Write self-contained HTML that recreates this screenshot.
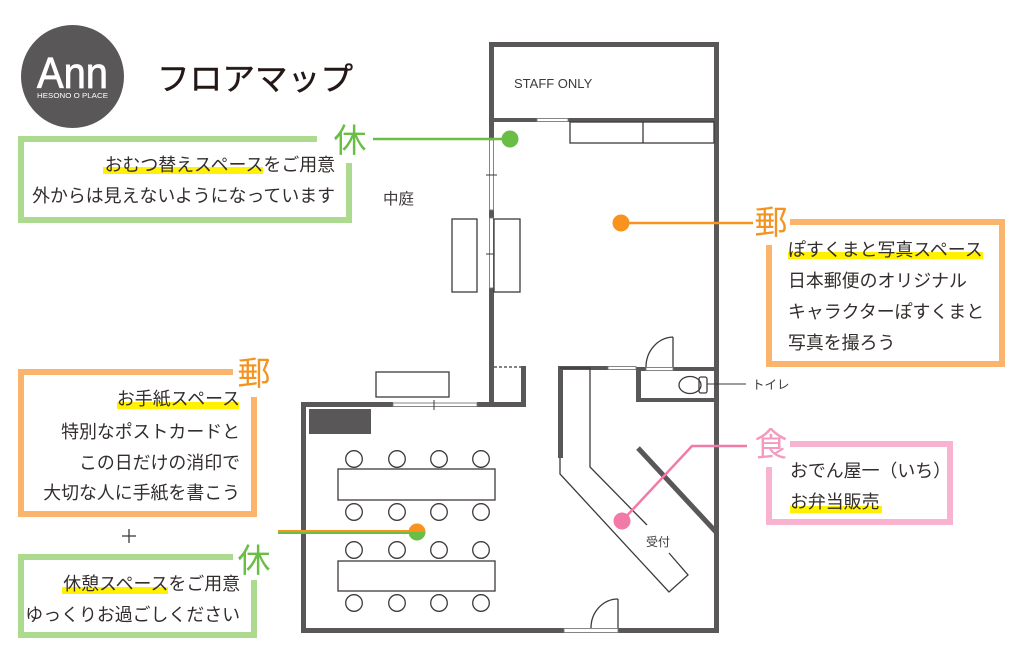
<!DOCTYPE html>
<html><head><meta charset="utf-8"><style>
html,body{margin:0;padding:0;background:#fff;}
svg{display:block;}
text{font-family:"Liberation Sans","Noto Sans CJK JP",sans-serif;}
.jp{font-family:"Liberation Sans","Noto Sans CJK JP",sans-serif;font-size:17.9px;fill:#332e2d;}
</style></head><body>
<svg width="1024" height="671" viewBox="0 0 1024 671" xmlns="http://www.w3.org/2000/svg">
<rect width="1024" height="671" fill="#fff"/>

<!-- Logo -->
<circle cx="72.5" cy="76.5" r="51.5" fill="#595757"/>
<text x="37" y="88" font-size="44" fill="#fff" stroke="#fff" stroke-width="0.8" textLength="71" lengthAdjust="spacingAndGlyphs">Ann</text>
<text x="37" y="98" font-size="7.5" fill="#fff" textLength="71" lengthAdjust="spacingAndGlyphs">HESONO O PLACE</text>
<text x="157" y="90" font-size="32" fill="#231815" stroke="#231815" stroke-width="0.4" textLength="196" lengthAdjust="spacingAndGlyphs" style="font-family:'Noto Sans CJK JP',sans-serif">フロアマップ</text>

<!-- ===== Floor plan ===== -->
<g fill="#595757">
  <rect x="489" y="42" width="230" height="5"/>
  <rect x="714" y="42" width="5" height="591"/>
  <rect x="489" y="42" width="5" height="98"/>
  <rect x="489" y="210" width="5" height="8"/>
  <rect x="489" y="288" width="5" height="119"/>
  <rect x="494" y="118" width="43" height="4"/>
  <rect x="568" y="118" width="146" height="4"/>
  <rect x="301" y="402" width="92" height="5"/>
  <rect x="477" y="402" width="49" height="5"/>
  <rect x="301" y="402" width="5" height="231"/>
  <rect x="301" y="628" width="263" height="5"/>
  <rect x="618" y="628" width="101" height="5"/>
  <rect x="521" y="366" width="5" height="41"/>
  <rect x="558" y="366" width="50" height="4"/>
  <rect x="558" y="366" width="5" height="92"/>
  <rect x="636" y="367" width="10" height="4"/>
  <rect x="673" y="367" width="41" height="4"/>
  <rect x="636" y="367" width="5" height="35"/>
  <rect x="636" y="398" width="78" height="4"/>
  <rect x="309" y="409" width="62" height="25"/>
</g>
<g fill="#fff" stroke="#7a7877" stroke-width="0.9">
  <rect x="489.5" y="140" width="4" height="70"/>
  <rect x="489.5" y="218" width="4" height="70"/>
  <rect x="537" y="118.5" width="31" height="3"/>
  <rect x="393" y="403" width="84" height="3.5"/>
  <rect x="608" y="366.5" width="28" height="3"/>
  <rect x="646" y="367.5" width="27" height="3"/>
  <rect x="564" y="628.5" width="54" height="4"/>
</g>
<g stroke="#3e3a39" stroke-width="1" fill="none">
  <line x1="486" y1="175" x2="497" y2="175"/>
  <line x1="486" y1="254" x2="497" y2="254"/>
  <line x1="434" y1="400" x2="434" y2="410"/>
</g>
<line x1="494" y1="367" x2="521" y2="367" stroke="#3e3a39" stroke-width="1.3" stroke-dasharray="3,2"/>

<g fill="#fff" stroke="#3e3a39" stroke-width="1.3">
  <rect x="570" y="122" width="144" height="21"/>
  <line x1="643" y1="122" x2="643" y2="143"/>
  <rect x="452" y="219" width="25" height="73"/>
  <rect x="494" y="219" width="26" height="73"/>
  <rect x="376" y="372" width="73" height="25"/>
  <rect x="338" y="469" width="157" height="31"/>
  <rect x="338" y="561" width="157" height="30"/>
  <circle cx="354" cy="459" r="8.3"/><circle cx="397" cy="459" r="8.3"/><circle cx="439" cy="459" r="8.3"/><circle cx="481" cy="459" r="8.3"/>
  <circle cx="354" cy="512" r="8.3"/><circle cx="397" cy="512" r="8.3"/><circle cx="439" cy="512" r="8.3"/><circle cx="481" cy="512" r="8.3"/>
  <circle cx="354" cy="550" r="8.3"/><circle cx="397" cy="550" r="8.3"/><circle cx="439" cy="550" r="8.3"/><circle cx="481" cy="550" r="8.3"/>
  <circle cx="354" cy="603" r="8.3"/><circle cx="397" cy="603" r="8.3"/><circle cx="439" cy="603" r="8.3"/><circle cx="481" cy="603" r="8.3"/>
</g>
<g fill="none" stroke="#3e3a39" stroke-width="1.3">
  <polyline points="560,458 560,474 669,592 688,575 669,553"/>
  <polyline points="647,525 590,467 590,368 560,368"/>
  <line x1="673" y1="337" x2="673" y2="367"/>
  <path d="M673,337 A28,30 0 0 0 646,367"/>
  <line x1="618" y1="599" x2="618" y2="628"/>
  <path d="M618,599 A27,29 0 0 0 591,628"/>
  <ellipse cx="690" cy="385" rx="11" ry="8.5"/>
  <rect x="699" y="377" width="8" height="16" rx="2"/>
  <line x1="707" y1="384" x2="746" y2="384" stroke-width="1.1"/>
</g>
<line x1="638" y1="448" x2="716" y2="532" stroke="#595757" stroke-width="5"/>

<text x="514" y="88" font-size="13" fill="#3e3a39">STAFF ONLY</text>
<text x="383" y="204" font-size="15.5" fill="#3e3a39" style="font-family:'Noto Sans CJK JP',sans-serif">中庭</text>
<text x="646" y="546" font-size="12" fill="#3e3a39" style="font-family:'Noto Sans CJK JP',sans-serif">受付</text>
<text x="752" y="389" font-size="12.5" fill="#3e3a39" style="font-family:'Noto Sans CJK JP',sans-serif">トイレ</text>

<line x1="373" y1="139" x2="510" y2="139" stroke="#6abd45" stroke-width="2.5"/>
<circle cx="510" cy="139" r="8.5" fill="#6abd45"/>
<line x1="621" y1="223" x2="753" y2="223" stroke="#f7931e" stroke-width="2.5"/>
<circle cx="621" cy="223" r="8.5" fill="#f7931e"/>
<polyline points="622,521 692,446 747,446" fill="none" stroke="#f27aa8" stroke-width="2.5"/>
<circle cx="622" cy="521" r="8.5" fill="#f27aa8"/>
<rect x="278" y="530" width="139" height="2" fill="#f7931e"/>
<rect x="278" y="532" width="139" height="2" fill="#6abd45"/>
<path d="M408.5,532 A8.5,8.5 0 0 1 425.5,532 Z" fill="#f7931e"/>
<path d="M408.5,532 A8.5,8.5 0 0 0 425.5,532 Z" fill="#6abd45"/>

<g fill="none" stroke-width="6">
  <path d="M317,139 L21,139 L21,220 L349,220 L349,163" stroke="#acdb8f"/>
  <path d="M790,222 L1002,222 L1002,364 L769,364 L769,245" stroke="#fbb46b"/>
  <path d="M790,444 L950,444 L950,522 L769,522 L769,467" stroke="#f7b3cf"/>
  <path d="M233,372 L21,372 L21,514 L254,514 L254,397" stroke="#fbb46b"/>
  <path d="M233,557 L21,557 L21,635 L254,635 L254,580" stroke="#acdb8f"/>
</g>

<g font-size="33" text-anchor="middle" style="font-family:'Noto Sans CJK JP',sans-serif">
  <text x="350" y="152" fill="#6abd45">休</text>
  <text x="771" y="234" fill="#f39422">郵</text>
  <text x="771" y="456" fill="#f49ac1">食</text>
  <text x="254" y="385" fill="#f39422">郵</text>
  <text x="254" y="572" fill="#6abd45">休</text>
</g>

<g fill="#fff100">
  <rect x="103" y="167" width="160" height="7"/>
  <rect x="788" y="252" width="195" height="7"/>
  <rect x="790" y="506" width="92" height="7"/>
  <rect x="117" y="402" width="122" height="7"/>
  <rect x="62" y="587" width="106" height="7"/>
</g>

<g class="jp" text-anchor="end">
  <text class="jp" x="335" y="171">おむつ替えスペースをご用意</text>
  <text class="jp" x="335" y="202">外からは見えないようになっています</text>
  <text class="jp" x="240" y="405">お手紙スペース</text>
  <text class="jp" x="240" y="438">特別なポストカードと</text>
  <text class="jp" x="240" y="469">この日だけの消印で</text>
  <text class="jp" x="240" y="499">大切な人に手紙を書こう</text>
  <text class="jp" x="240" y="590">休憩スペースをご用意</text>
  <text class="jp" x="240" y="621">ゆっくりお過ごしください</text>
</g>
<g class="jp">
  <text class="jp" x="788" y="256">ぽすくまと写真スペース</text>
  <text class="jp" x="788" y="287">日本郵便のオリジナル</text>
  <text class="jp" x="788" y="318">キャラクターぽすくまと</text>
  <text class="jp" x="788" y="349">写真を撮ろう</text>
  <text class="jp" x="790" y="477">おでん屋一（いち）</text>
  <text class="jp" x="790" y="508">お弁当販売</text>
</g>

<g stroke="#3e3a39" stroke-width="1.3">
  <line x1="122" y1="536" x2="136" y2="536"/>
  <line x1="129" y1="529" x2="129" y2="543"/>
</g>
</svg>
</body></html>
